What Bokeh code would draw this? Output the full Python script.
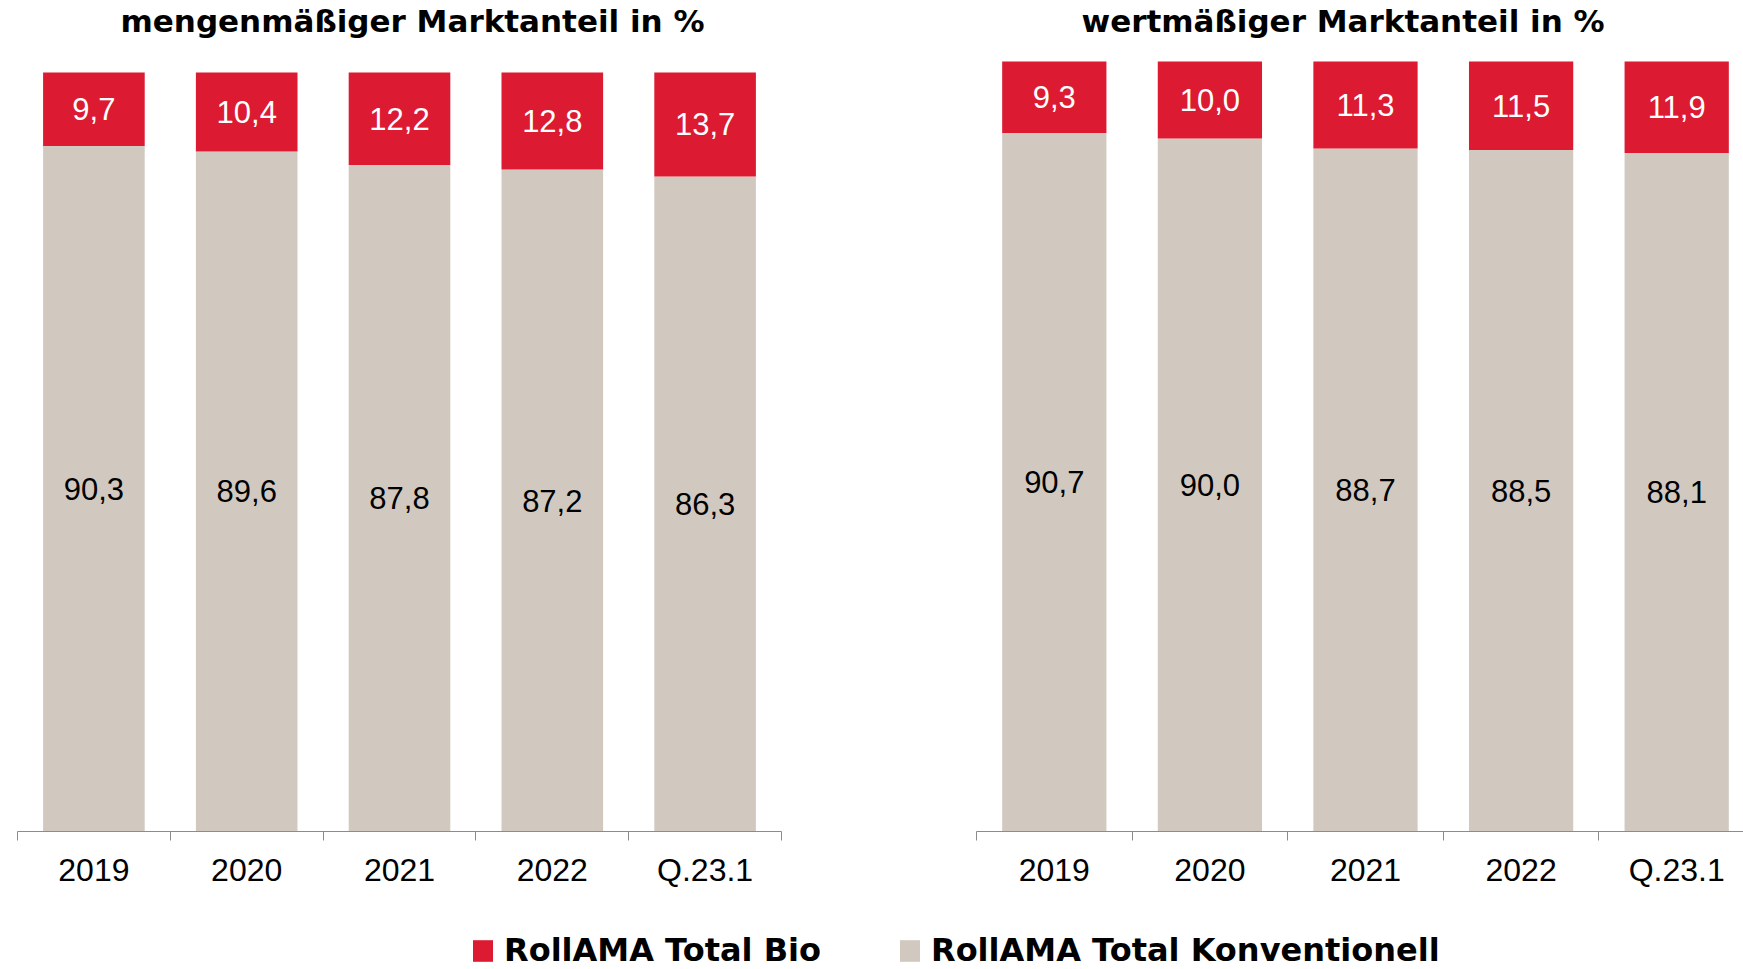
import numpy as np
from bokeh.plotting import figure
from bokeh.models import (ColumnDataSource, Range1d, LinearAxis, FixedTicker,
                          Legend, LegendItem)
from bokeh.layouts import row, column
from bokeh.embed import file_html
from bokeh.resources import INLINE
from bokeh.core.properties import value

# ---- data ----
categories = ["2019", "2020", "2021", "2022", "Q.23.1"]
series = ["RollAMA Total Bio", "RollAMA Total Konventionell"]
menge_bio = [9.7, 10.4, 12.2, 12.8, 13.7]
menge_konv = [90.3, 89.6, 87.8, 87.2, 86.3]
wert_bio = [9.3, 10.0, 11.3, 11.5, 11.9]
wert_konv = [90.7, 90.0, 88.7, 88.5, 88.1]
titles = ["mengenmäßiger Marktanteil in %", "wertmäßiger Marktanteil in %"]

RED = "#DC1A31"
GRAY = "#D1C9BF"
AXIS = "#8C8C8C"
LABEL_FONT = "Liberation Sans"
BOLD_FONT = "DejaVu Sans"

TOP = 37        # frame top (title sits just above)
BOTTOM = 831    # axis line
ROW_H = 915


def fmt(v):
    return f"{v:.1f}".replace(".", ",")


def make_panel(title, bio, konv, width, b_left, b_right, x_end, y_end, bar_w,
               t_offset):
    n = len(categories)
    x = np.arange(n) + 0.5
    konv_a = np.array(konv)
    bio_a = np.array(bio)
    src = ColumnDataSource(dict(
        x=x, konv=konv, bio=bio,
        konv_mid=konv_a / 2, bio_mid=konv_a + bio_a / 2,
        konv_lbl=[fmt(v) for v in konv], bio_lbl=[fmt(v) for v in bio]))
    p = figure(width=width, height=ROW_H, title=title,
               x_range=Range1d(0, x_end), y_range=Range1d(0, y_end),
               output_backend="svg", toolbar_location=None,
               x_axis_location=None, y_axis_location=None,
               min_border_left=b_left, min_border_right=b_right,
               min_border_top=TOP, min_border_bottom=ROW_H - BOTTOM,
               outline_line_color=None)
    p.xgrid.visible = False
    p.ygrid.visible = False

    p.title.align = "left"
    p.title.offset = t_offset
    p.title.standoff = 0
    p.title.text_font = BOLD_FONT
    p.title.text_font_style = "bold"
    p.title.text_font_size = "31px"
    p.title.text_color = "black"

    p.vbar_stack(["konv", "bio"], x="x", width=bar_w, fill_color=[GRAY, RED],
                 line_color=None, source=src)

    p.text(x="x", y="bio_mid", text="bio_lbl", source=src, text_align="center",
           text_baseline="middle", text_color="white",
           text_font=value(LABEL_FONT), text_font_size="31px")
    p.text(x="x", y="konv_mid", text="konv_lbl", source=src, text_align="center",
           text_baseline="middle", text_color="black",
           text_font=value(LABEL_FONT), text_font_size="31px")

    ax = LinearAxis(
        ticker=FixedTicker(ticks=list(x), minor_ticks=list(range(n + 1))),
        major_label_overrides={float(xi): c for xi, c in zip(x, categories)})
    ax.axis_line_color = AXIS
    ax.axis_line_width = 1
    ax.major_tick_out = 0
    ax.major_tick_in = 0
    ax.minor_tick_out = 9
    ax.minor_tick_in = 0
    ax.minor_tick_line_color = AXIS
    ax.major_label_standoff = 11
    ax.major_label_text_font = LABEL_FONT
    ax.major_label_text_font_size = "32px"
    ax.major_label_text_color = "black"
    p.add_layout(ax, "below")
    return p


frame_h = BOTTOM - TOP
# left chart: 100 % reaches y=71, right chart: y=60
p1 = make_panel(titles[0], menge_bio, menge_konv, width=880, b_left=17, b_right=99,
                x_end=5, y_end=100 * frame_h / (BOTTOM - 71), bar_w=0.665,
                t_offset=103)
p2 = make_panel(titles[1], wert_bio, wert_konv, width=863, b_left=96, b_right=0,
                x_end=767 / 155.6, y_end=100 * frame_h / (BOTTOM - 60), bar_w=0.67,
                t_offset=105)

# ---- legend strip ----
pl = figure(width=1743, height=969 - ROW_H, x_range=Range1d(0, 1),
            y_range=Range1d(0, 1), output_backend="svg", toolbar_location=None,
            x_axis_location=None, y_axis_location=None,
            min_border=0, outline_line_color=None)
pl.xgrid.visible = False
pl.ygrid.visible = False
# invisible stand-in renderers (outside the range) that carry the legend swatches
r_bio = pl.vbar(x=[-1], top=[0], width=0.1, fill_color=RED, line_color=None)
r_konv = pl.vbar(x=[-1], top=[0], width=0.1, fill_color=GRAY, line_color=None)
legend = Legend(items=[LegendItem(label=series[0], renderers=[r_bio]),
                       LegendItem(label=series[1], renderers=[r_konv])],
                orientation="horizontal", location=(470, 0),
                glyph_width=25, glyph_height=27, label_standoff=9, spacing=76,
                padding=0, margin=0, border_line_color=None,
                background_fill_alpha=0,
                label_text_font=BOLD_FONT, label_text_font_style="bold",
                label_text_font_size="32px", label_text_color="black")
pl.add_layout(legend)

layout = column(row(p1, p2), pl)
open("out.html", "w").write(file_html(layout, INLINE))
